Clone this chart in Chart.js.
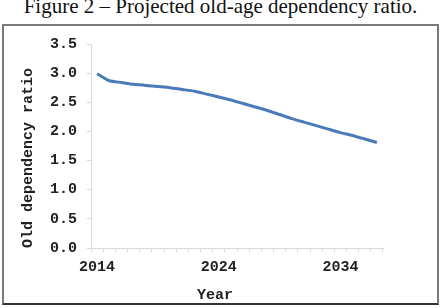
<!DOCTYPE html>
<html>
<head>
<meta charset="utf-8">
<script src="https://cdn.jsdelivr.net/npm/chart.js@4"></script>
<style>
  body { margin: 0; background: #fff; }
  #wrap { position: relative; width: 441px; height: 308px; overflow: hidden; }
  #caption {
    position: absolute; left: 0; top: -4px; width: 441px; text-align: center;
    font: 21px "Liberation Serif", "Times New Roman", serif; line-height: 21px; color: #111;
    white-space: nowrap;
  }
  #box {
    position: absolute; left: 2px; top: 24px; width: 433px; height: 277px;
    border: 2px solid #7a7a7a; border-bottom-color: #333;
  }
  canvas { position: absolute; left: 0; top: 0; }
</style>
</head>
<body>
<div id="wrap">
  <div id="caption">Figure 2 – Projected old-age dependency ratio.</div>
  <div id="box"></div>
  <canvas id="chart" width="441" height="308"></canvas>
</div>
<script>
"use strict";

const years = [];
for (let y = 2014; y <= 2037; y++) {
  years.push(String(y));
}
const ratios = [2.99, 2.87, 2.84, 2.81, 2.79, 2.77, 2.75, 2.72, 2.69, 2.64, 2.59, 2.54,
  2.48, 2.42, 2.36, 2.29, 2.22, 2.16, 2.10, 2.04, 1.98, 1.93, 1.87, 1.81];
const shownYears = ["2014", "2024", "2034"];
const yTitle = "Old dependency ratio";
const xTitle = "Year";

const monoFont = { family: "'Liberation Mono', 'Courier New', monospace", size: 15, weight: "bold" };

// axis titles drawn by hand so they sit where the original has them
const axisTitles = {
  id: "axisTitles",
  afterDraw(chart) {
    const ctx = chart.ctx;
    ctx.save();
    ctx.fillStyle = "#222";
    ctx.font = "bold 15px 'Liberation Mono', monospace";
    ctx.textAlign = "center";
    ctx.textBaseline = "middle";
    ctx.fillText(xTitle, 215, 295);
    ctx.translate(28, 158);
    ctx.rotate(-Math.PI / 2);
    ctx.fillText(yTitle, 0, 0);
    ctx.restore();
  },
};

const chart = new Chart(document.getElementById("chart"), {
  type: "line",
  data: {
    labels: years,
    datasets: [
      {
        data: ratios,
        borderColor: "#4a7ab8",
        borderWidth: 3,
        pointRadius: 0,
        tension: 0.2,
        fill: false,
      },
    ],
  },
  options: {
    responsive: false,
    animation: false,
    layout: { padding: { left: 50, right: 58, top: 44, bottom: 28 } },
    plugins: { legend: { display: false }, tooltip: { enabled: false } },
    scales: {
      x: {
        offset: true,
        grid: { offset: true, drawOnChartArea: false, tickLength: 4, color: "#d9d9d9" },
        border: { color: "#d9d9d9" },
        ticks: {
          autoSkip: false,
          maxRotation: 0,
          padding: 6,
          color: "#222",
          font: monoFont,
          callback: function (value) {
            const lab = this.getLabelForValue(value);
            return shownYears.includes(lab) ? lab : "";
          },
        },
        afterFit: (scale) => {
          scale.height = 32;
        },
      },
      y: {
        min: 0,
        max: 3.5,
        grid: { drawOnChartArea: false, tickLength: 4, color: "#d9d9d9" },
        border: { color: "#d9d9d9" },
        ticks: {
          stepSize: 0.5,
          padding: 10,
          color: "#222",
          font: monoFont,
          callback: (v) => v.toFixed(1),
        },
        afterFit: (scale) => {
          scale.width = 41;
        },
      },
    },
  },
  plugins: [axisTitles],
});
</script>
</body>
</html>
